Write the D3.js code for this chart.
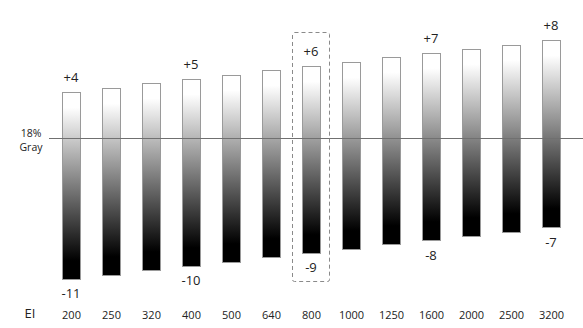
<!doctype html>
<head>
  <style>
    body {
      margin: 0;
      background: #fff;
      font-family: "Open Sans", "Noto Sans", Arial, sans-serif;
    }
    text {
      fill: #222;
    }
  </style>
<script src="https://cdnjs.cloudflare.com/ajax/libs/d3/7.8.5/d3.min.js"></script>
</head>
<body>
<script>
// exposure index values along the bottom
var isoLabels = ["200", "250", "320", "400", "500", "640", "800", "1000", "1250", "1600", "2000", "2500", "3200"];
// stops above / below 18% gray
var overStops = [4, 4.33, 4.67, 5, 5.33, 5.67, 6, 6.33, 6.67, 7, 7.33, 7.67, 8];
var underStops = [-11, -10.67, -10.33, -10, -9.67, -9.33, -9, -8.67, -8.33, -8, -7.67, -7.33, -7];
var overText = ["+4", "", "", "+5", "", "", "+6", "", "", "+7", "", "", "+8"];
var underText = ["-11", "", "", "-10", "", "", "-9", "", "", "-8", "", "", "-7"];
var baseIso = "800";

var width = 583, height = 328;
var barW = 18;

var svg = d3.select("body").append("svg")
  .attr("width", width)
  .attr("height", height);

var x = d3.scalePoint()
  .domain(isoLabels)
  .range([71, 551]);

var y = d3.scaleLinear()
  .domain([-11, 0, 4, 8])
  .range([279, 138, 92, 40.3]);

var grad = svg.append("defs").append("linearGradient")
  .attr("id", "bw")
  .attr("x1", 0).attr("y1", 0)
  .attr("x2", 0).attr("y2", 1);
grad.append("stop").attr("offset", 0).attr("stop-color", "#fff");
grad.append("stop").attr("offset", 0.08).attr("stop-color", "#fff");
grad.append("stop").attr("offset", 0.9).attr("stop-color", "#000");
grad.append("stop").attr("offset", 1).attr("stop-color", "#000");

var data = isoLabels.map(function(d, i) {
  return {iso: d, hi: overStops[i], lo: underStops[i], hiT: overText[i], loT: underText[i]};
});

// bars
svg.selectAll(".bar")
  .data(data).enter()
  .append("rect")
    .attr("class", "bar")
    .attr("x", function(d) { return Math.round(x(d.iso) - barW / 2) + 0.5; })
    .attr("y", function(d) { return Math.round(y(d.hi)) + 0.5; })
    .attr("width", barW)
    .attr("height", function(d) { return Math.round(y(d.lo) - y(d.hi)); })
    .attr("fill", "url(#bw)")
    .attr("stroke", "#9a9a9a")
    .attr("stroke-width", 1);

// 18% gray line
svg.append("line")
  .attr("x1", 49).attr("x2", width)
  .attr("y1", Math.round(y(0)) + 0.5).attr("y2", Math.round(y(0)) + 0.5)
  .attr("stroke", "#707070")
  .attr("stroke-width", 1);

svg.append("text")
  .attr("x", 31).attr("y", 136.5)
  .attr("text-anchor", "middle")
  .style("font-size", "10.5px")
  .text("18%");
svg.append("text")
  .attr("x", 31).attr("y", 151)
  .attr("text-anchor", "middle")
  .style("font-size", "10.5px")
  .text("Gray");

// stop labels
svg.selectAll(".hiT")
  .data(data.filter(function(d) { return d.hiT; })).enter()
  .append("text")
    .attr("class", "hiT")
    .attr("x", function(d) { return x(d.iso); })
    .attr("y", function(d) { return y(d.hi) - 10; })
    .attr("text-anchor", "middle")
    .style("font-size", "13px")
    .text(function(d) { return d.hiT; });

svg.selectAll(".loT")
  .data(data.filter(function(d) { return d.loT; })).enter()
  .append("text")
    .attr("class", "loT")
    .attr("x", function(d) { return x(d.iso); })
    .attr("y", function(d) { return y(d.lo) + 19; })
    .attr("text-anchor", "middle")
    .style("font-size", "13px")
    .text(function(d) { return d.loT; });

// dashed box on base EI
var base = data.filter(function(d) { return d.iso == baseIso; })[0];
svg.append("rect")
  .attr("x", x(base.iso) - 18.5)
  .attr("y", Math.round(y(base.hi) - 34) + 0.5)
  .attr("width", 37)
  .attr("height", Math.round(y(base.lo) - y(base.hi) + 62))
  .attr("rx", 2)
  .attr("fill", "none")
  .attr("stroke", "#8a8a8a")
  .attr("stroke-dasharray", "4,3");

// axis
var axis = svg.append("g")
  .attr("transform", "translate(0,308)")
  .call(d3.axisBottom(x).tickSize(0).tickPadding(3));
axis.select(".domain").remove();
axis.selectAll("text")
  .style("font-size", "11px")
  .style("font-family", "'Open Sans', 'Noto Sans', Arial, sans-serif")
  .attr("fill", "#222");

svg.append("text")
  .attr("x", 30).attr("y", 318)
  .attr("text-anchor", "middle")
  .style("font-size", "13px")
  .text("EI");
</script>
</body>
